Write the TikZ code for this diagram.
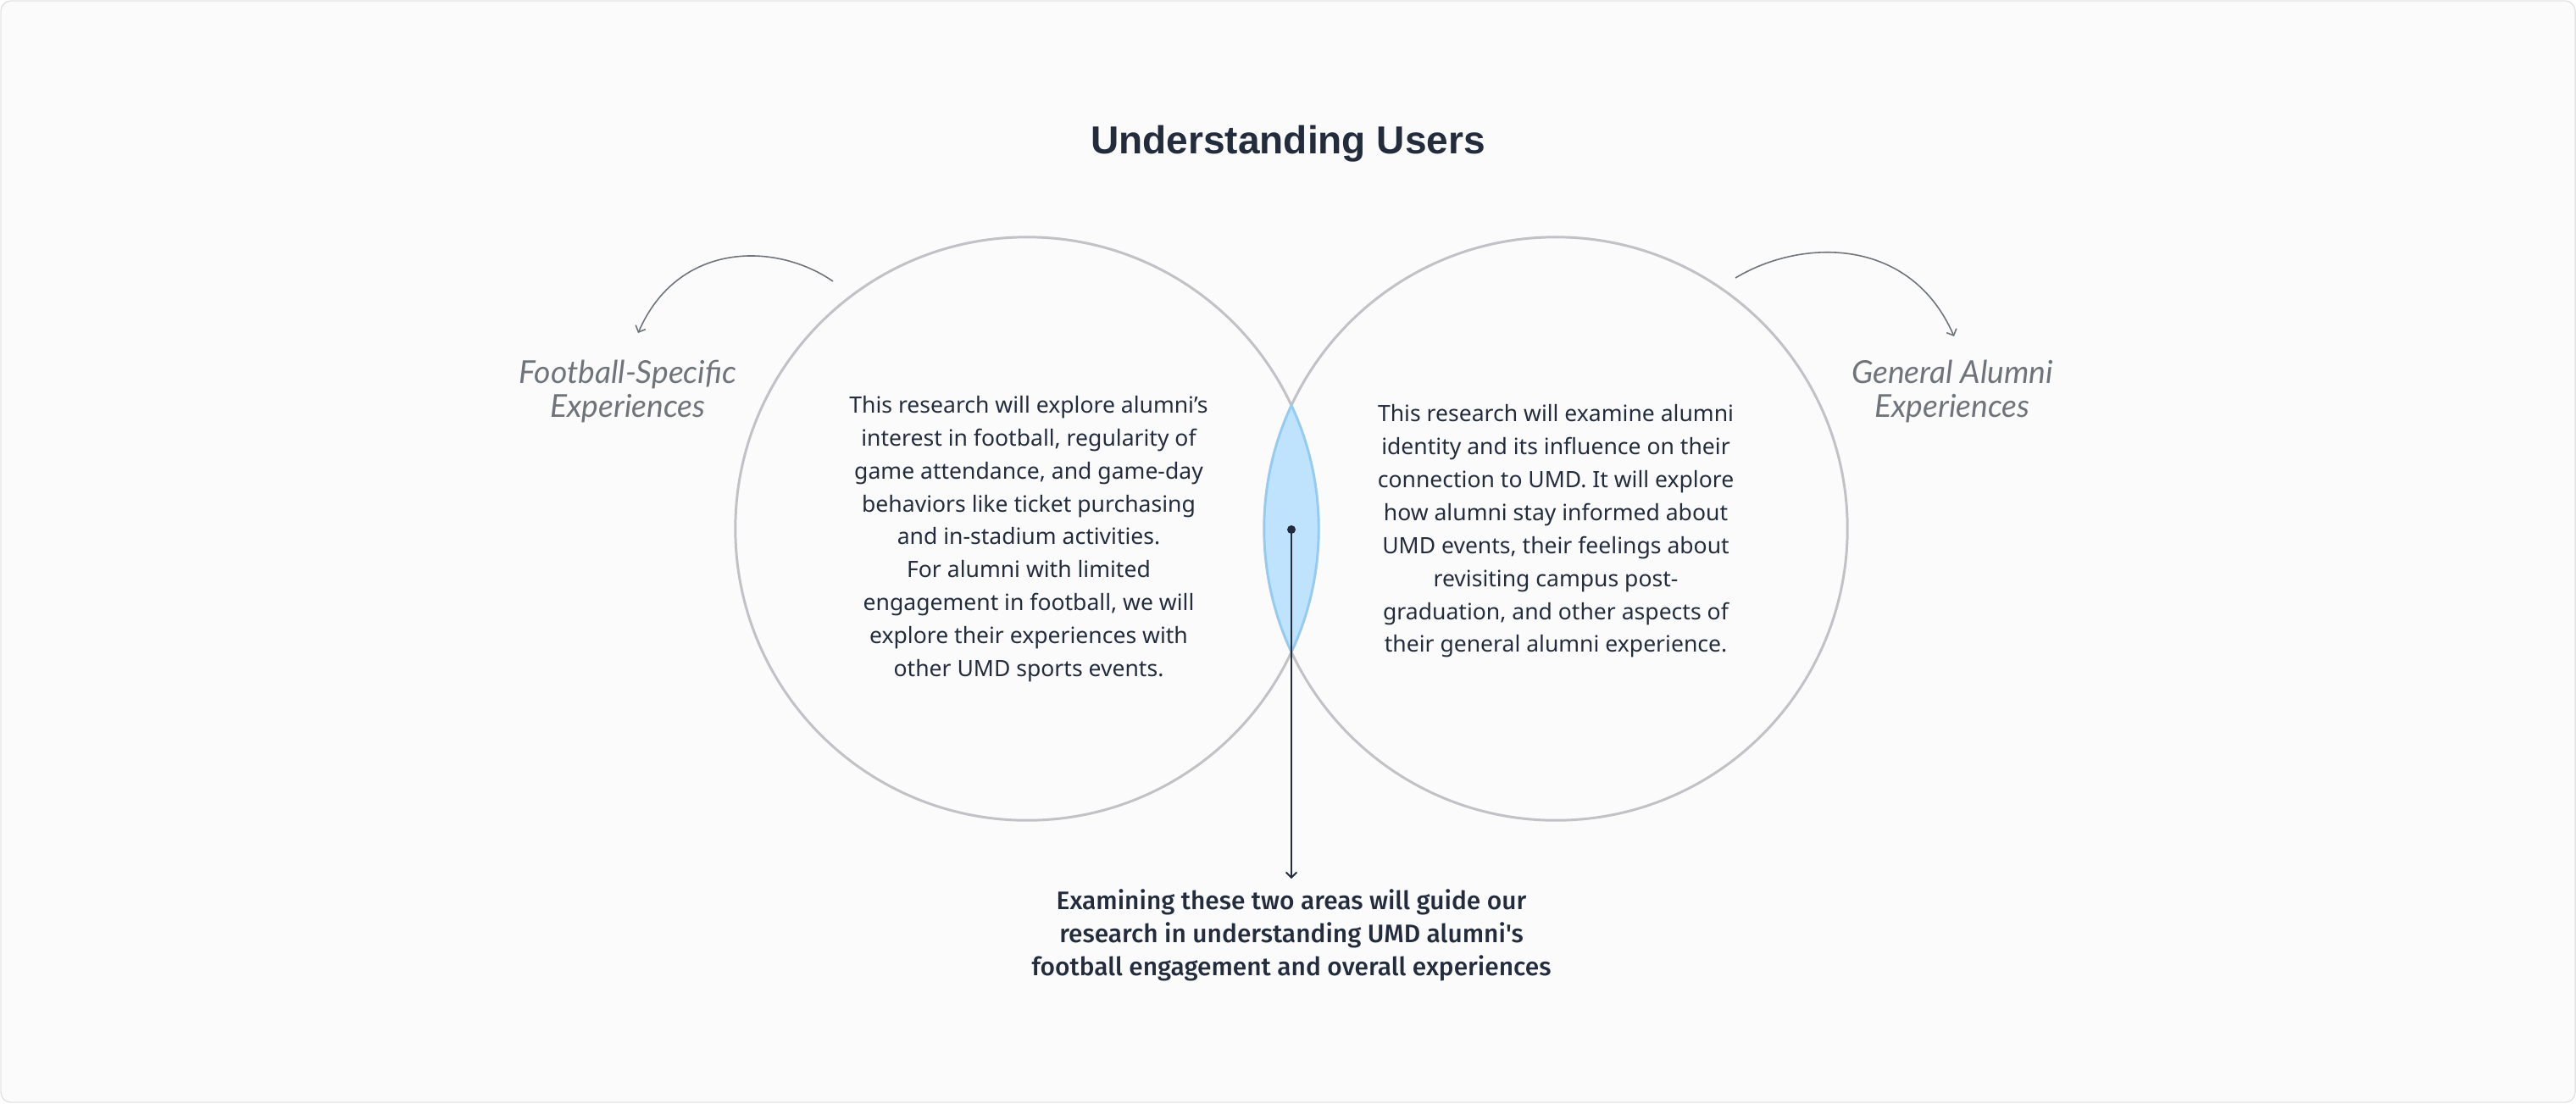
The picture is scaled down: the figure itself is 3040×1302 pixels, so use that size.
\documentclass[tikz,border=0pt]{standalone}
\usepackage{fontspec}
\setmainfont{Noto Sans}
\newfontfamily\titlefont{Liberation Sans}
\newfontfamily\handfont{Lato}
\newfontfamily\leadfont{Fira Sans Medium}
\usetikzlibrary{arrows.meta}

\definecolor{paper}{HTML}{FBFBFB}
\definecolor{framegray}{HTML}{E3E3E3}
\definecolor{ringgray}{HTML}{C2C2C6}
\definecolor{lensfill}{HTML}{BFE2FD}
\definecolor{lensline}{HTML}{8FCDF9}
\definecolor{ink}{HTML}{232C3D}
\definecolor{handgray}{HTML}{6F737A}

\begin{document}
\begin{tikzpicture}[x=0.01cm,y=-0.01cm,>={Straight Barb[length=1.8pt,width=3.6pt]},
  ring/.style={circle,draw=ringgray,line width=0.85pt,minimum size=6.88cm,inner sep=0},
  body/.style={align=center,text=ink,font=\fontsize{7.55}{11.05}\selectfont,inner sep=0},
  hand/.style={align=center,text=handgray,font=\handfont\itshape\fontsize{10.6}{11.2}\selectfont,inner sep=0},
  curvearrow/.style={->,draw=handgray,line width=0.45pt}]
  \useasboundingbox (0,0) rectangle (3040,1302);
  \draw[draw=framegray,fill=paper,rounded corners=3.4pt] (1,1) rectangle (3039,1301);

  \node[font=\titlefont\bfseries\fontsize{13.1}{16}\selectfont,text=ink,inner sep=0,anchor=base] (title) at (1520,181) {Understanding Users};

  % the two circles and their overlap
  \node[ring] (footy) at (1212,624) {};
  \node[ring] (alumni) at (1836,624) {};
  \begin{scope}
    \clip (1212,624) circle[radius=344];
    \draw[fill=lensfill,draw=lensline,line width=0.7pt] (1836,624) circle[radius=344];
  \end{scope}
  \begin{scope}
    \clip (1836,624) circle[radius=344];
    \draw[draw=lensline,line width=0.7pt] (1212,624) circle[radius=344];
  \end{scope}

  \node[body] (footytext) at (1214,636) {This research will explore alumni’s\\interest in football, regularity of\\game attendance, and game-day\\behaviors like ticket purchasing\\and in-stadium activities.\\For alumni with limited\\engagement in football, we will\\explore their experiences with\\other UMD sports events.};
  \node[body] (alumnitext) at (1836,627) {This research will examine alumni\\identity and its influence on their\\connection to UMD. It will explore\\how alumni stay informed about\\UMD events, their feelings about\\revisiting campus post-\\graduation, and other aspects of\\their general alumni experience.};

  \node[hand] (fslabel) at (741,462) {Football-Specific\\Experiences};
  \node[hand] (galabel) at (2304,462) {General Alumni\\Experiences};
  \coordinate (fsfrom) at (983,332);
  \coordinate (fsto) at (753,393);
  \coordinate (gafrom) at (2048,328);
  \coordinate (gato) at (2306,397);
  \draw[curvearrow] (fsfrom) .. controls (915,285) and (800,285) .. (fsto);
  \draw[curvearrow] (gafrom) .. controls (2128,280) and (2255,280) .. (gato);

  \node[circle,fill=ink,inner sep=0,minimum size=0.1cm] (hub) at (1524,625) {};
  \node[body,font=\leadfont\fontsize{8.5}{11.1}\selectfont] (summary) at (1524,1104) {Examining these two areas will guide our\\research in understanding UMD alumni's\\football engagement and overall experiences};
  \draw[->,draw=ink,line width=0.55pt,shorten >=0.12cm] (hub.center) -- (summary);
\end{tikzpicture}
\end{document}
